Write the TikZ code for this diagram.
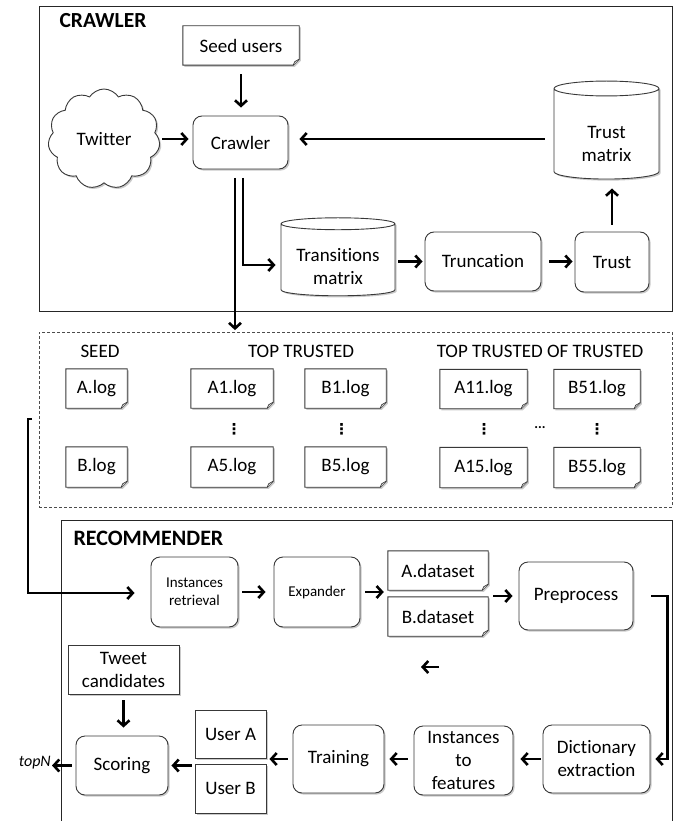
\documentclass[tikz,border=0pt]{standalone}
\usepackage{fontspec}
\setmainfont{Carlito}[Ligatures=NoCommon]
\newfontfamily\symfont{DejaVu Sans}
\usetikzlibrary{shapes.geometric,shapes.symbols,arrows.meta,shadows,calc,backgrounds}

\tikzset{
  shade/.style={drop shadow={shadow xshift=1.6pt,shadow yshift=-1.6pt,opacity=0.35,fill=black!60}},
  base/.style={draw=black!78, line width=0.9pt, fill=white, align=center,
    font=\fontsize{19}{23}\selectfont, inner sep=0pt, shade},
  rbox/.style={base, rounded corners=9pt},
  sbox/.style={base},
  small/.style={font=\fontsize{15}{18}\selectfont},
  cyl/.style={base, cylinder, shape border rotate=90},
  docbox/.style={align=center, font=\fontsize{19}{23}\selectfont, inner sep=0pt},
  docline/.style={draw=black!78, line width=0.9pt, fill=white, shade},
  frame/.style={draw=black!85, line width=0.8pt},
  lbl/.style={font=\fontsize{19}{23}\selectfont, align=center, inner sep=0pt},
  title/.style={font=\fontsize{21.5}{24}\selectfont\bfseries, anchor=west},
  arr/.style={line width=2.6pt, -{Straight Barb[length=5.5pt,width=12pt]}},
  dotsv/.style={font=\fontsize{15}{16}\symfont\bfseries, inner sep=0pt},
}

\newcommand\mydoc[5]{%
  \node[docbox, minimum width=#3, minimum height=#4] (#1) at (#2) {#5};
  \begin{pgfonlayer}{background}
    \draw[docline] (#1.north west) -- (#1.north east) -- ([yshift=6pt]#1.south east)
      -- ([xshift=-6pt]#1.south east) -- (#1.south west) -- cycle;
    \draw[draw=black!78, line width=0.7pt, fill=black!12] ([yshift=6pt]#1.south east)
      -- ([xshift=-4.5pt,yshift=3.5pt]#1.south east) -- ([xshift=-6pt]#1.south east);
  \end{pgfonlayer}
}

\begin{document}
\begin{tikzpicture}[x=1pt,y=-1pt]
\useasboundingbox (0,0) rectangle (685,821);

% ---------------- CRAWLER ----------------
\node[frame, minimum width=633, minimum height=305] (cframe) at (355.5,158.5) {};
\node[title] (ctitle) at (56,21) {CRAWLER};

\mydoc{seed}{241,45.5}{116}{39}{Seed users}
\node[base, cloud, cloud puffs=11, cloud puff arc=115, aspect=1.1,
      minimum width=112, minimum height=100] (twitter) at (104,139) {Twitter};
\node[rbox, minimum width=95, minimum height=53] (crawler) at (240.5,142.5) {Crawler};
\node[cyl, aspect=0.3, minimum width=105, minimum height=98] (tm) at (606.5,134) {\phantom{matrix}};
\node[lbl] (tmtext) at ([yshift=-10pt]tm.center) {Trust\\matrix};
\node[cyl, aspect=0.24, minimum width=114, minimum height=78] (trans) at (338,260) {\phantom{matrix}};
\node[lbl] (transtext) at ([yshift=-6.5pt]trans.center) {Transitions\\matrix};
\node[rbox, minimum width=116, minimum height=59] (trunc) at (483,261.5) {Truncation};
\node[rbox, minimum width=74, minimum height=60] (trust) at (612,262) {Trust};

\draw[arr, shorten <=9pt, shorten >=8pt] (seed.south) -- (seed.south |- crawler.north);
\draw[arr, shorten <=3pt, shorten >=4pt] (twitter.east) -- (twitter.east -| crawler.west);
\draw[arr, shorten <=9pt, shorten >=11pt] (tm.west |- twitter.east) -- (crawler.east |- twitter.east);
\draw[arr, shorten <=3pt, shorten >=2pt] (trunc.west -| trans.east) -- (trunc.west);
\draw[arr, shorten <=8pt, shorten >=2pt] (trunc.east) -- (trunc.east -| trust.west);
\draw[arr, shorten <=7pt, shorten >=9pt] (trust.north) -- (trust.north |- tm.south);

\coordinate (c1) at (235,178);
\coordinate (c2) at (243,178);
\draw[arr, shorten >=5pt] (c2) |- ([yshift=-5pt]trans.west);

% ---------------- LOG FILES ----------------
\node[draw=black!70, dashed, dash pattern=on 3pt off 2pt, line width=0.8pt,
      minimum width=633, minimum height=175] (dash) at (355.5,419.5) {};
\draw[arr, shorten >=1.5pt] (c1) -- (c1 |- dash.north);

\node[lbl] (lseed) at (100,351) {SEED};
\node[lbl] (ltop) at (301,351) {TOP TRUSTED};
\node[lbl] (ltt) at (540,351) {TOP TRUSTED OF TRUSTED};

\mydoc{alog}{96.5,388.5}{61}{39}{A.log}
\mydoc{blog}{96.5,467}{61}{40}{B.log}
\mydoc{a1}{232,388.5}{82}{39}{A1.log}
\mydoc{b1}{345.5,388.5}{81}{39}{B1.log}
\mydoc{a5}{232,467}{82}{40}{A5.log}
\mydoc{b5}{345.5,467}{81}{40}{B5.log}
\mydoc{a11}{483.5,389}{87}{39}{A11.log}
\mydoc{b51}{597,389}{86}{39}{B51.log}
\mydoc{a15}{483.5,467.5}{87}{40}{A15.log}
\mydoc{b55}{597,467.5}{86}{40}{B55.log}

\node[dotsv] (d1) at (234,429) {⋮};
\node[dotsv] (d2) at (341.5,429) {⋮};
\node[dotsv] (d3) at (484,429) {⋮};
\node[dotsv] (d4) at (597,429) {⋮};
\node[font=\fontsize{14}{16}\selectfont\bfseries, inner sep=0pt] (d5) at (540,428) {...};

% ---------------- RECOMMENDER ----------------
\coordinate (r1) at (61,821);
\coordinate (r2) at (61,520);
\coordinate (r3) at (672,520);
\coordinate (r4) at (672,821);
\draw[frame] (r1) -- (r2) -- (r3) -- (r4);
\node[title, font=\fontsize{22}{24}\selectfont\bfseries] (rtitle) at (70,538.5) {RECOMMENDER};

\node[rbox, small, minimum width=87, minimum height=70] (inst) at (194.5,592) {Instances\\retrieval};
\node[rbox, small, minimum width=86, minimum height=70] (exp) at (317,592) {Expander};
\mydoc{ads}{438,570.5}{100}{39}{A.dataset}
\mydoc{bds}{438,616.5}{100}{39}{B.dataset}
\node[rbox, minimum width=114, minimum height=68] (pre) at (576,596) {Preprocess};

\node[sbox, minimum width=111, minimum height=49] (tweet) at (123.5,669.5) {Tweet\\candidates};
\node[rbox, minimum width=92, minimum height=59] (scoring) at (122,765.5) {Scoring};
\node[sbox, minimum width=71, minimum height=48] (usera) at (230.5,734) {User A};
\node[sbox, minimum width=71, minimum height=49] (userb) at (230.5,788.5) {User B};
\node[rbox, minimum width=91, minimum height=68] (training) at (338.5,759) {Training};
\node[rbox, minimum width=99, minimum height=69] (itf) at (463.5,760.5) {Instances\\to\\features};
\node[rbox, minimum width=107, minimum height=68] (dict) at (596.5,759) {Dictionary\\extraction};
\node[font=\fontsize{16}{18}\selectfont\itshape, anchor=east, inner sep=0pt] (topn) at (51,763) {topN};

% input from log files
\coordinate (in0) at (32,419);
\coordinate (in1) at (28,593);
\draw[arr, shorten >=16pt] (in0) -| (in1) -- (in1 -| inst.west);

\draw[arr, shorten <=4pt, shorten >=8pt] (inst.east) -- (exp.west);
\draw[arr, shorten <=5pt, shorten >=4pt] (exp.east) -- (exp.east -| ads.west);
\draw[arr, shorten <=5pt, shorten >=6pt] (pre.west -| ads.east) -- (pre.west);
\draw[arr, shorten >=5pt] ([xshift=18pt]pre.east) -- ([xshift=34pt]pre.east) |- (dict.east);

\coordinate (s1) at (439,667);
\coordinate (s2) at (421,667);
\draw[arr] (s1) -- (s2);

\draw[arr, shorten <=6pt, shorten >=8pt] (tweet.south) -- (tweet.south |- scoring.north);
\draw[arr, shorten <=2pt, shorten >=7pt] (dict.west) -- (dict.west -| itf.east);
\draw[arr, shorten <=6pt, shorten >=5pt] (dict.west -| itf.west) -- (dict.west -| training.east);
\draw[arr, shorten <=5pt, shorten >=3pt] (training.west) -- (training.west -| usera.east);
\draw[arr, shorten <=3pt, shorten >=3pt] (scoring.east -| usera.west) -- (scoring.east);
\draw[arr, shorten <=4pt, shorten >=1pt] (scoring.west) -- (scoring.west -| topn.east);
\end{tikzpicture}
\end{document}
